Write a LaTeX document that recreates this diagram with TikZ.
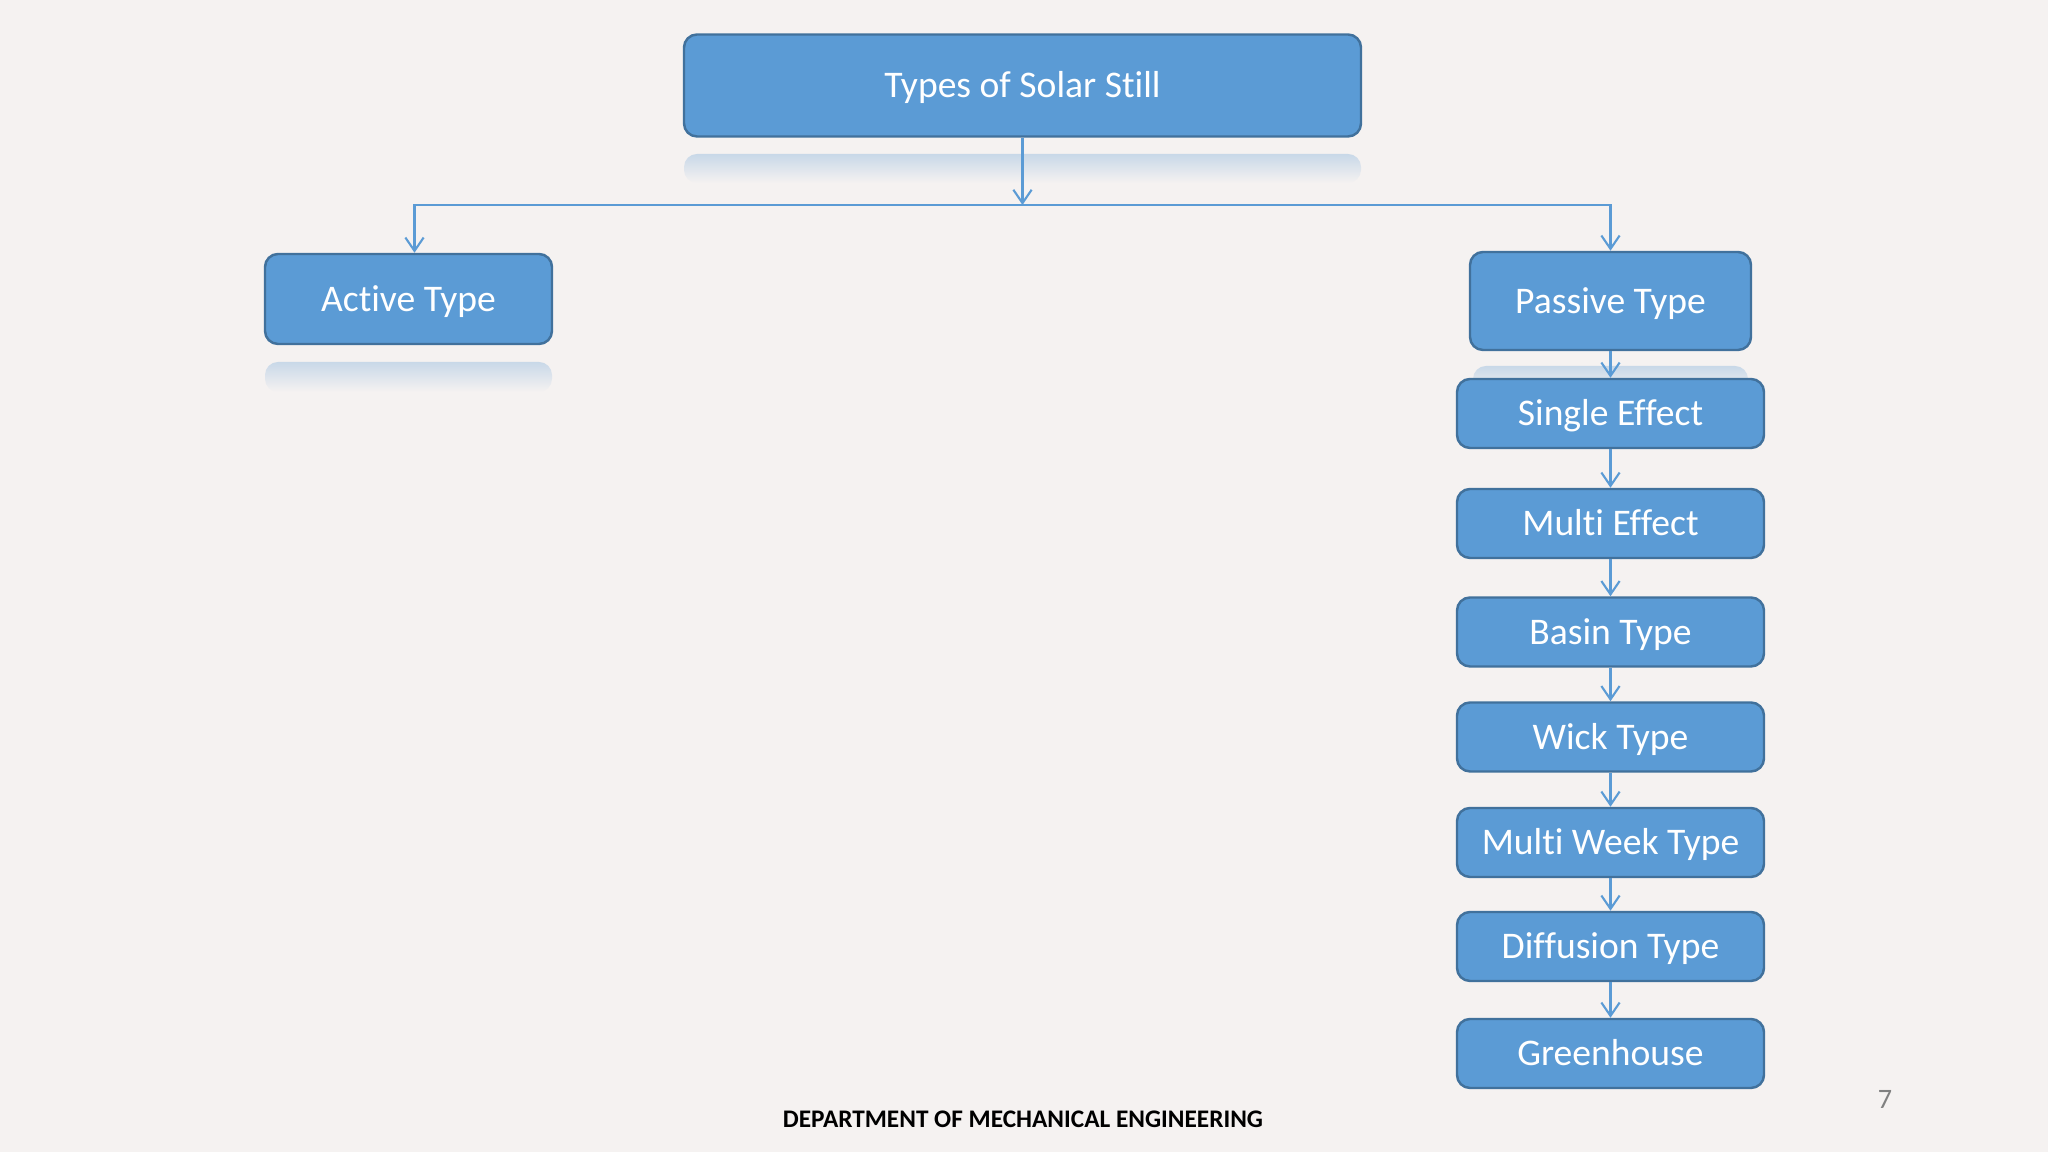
\documentclass[tikz,border=0pt]{standalone}
\usepackage{fontspec}
\setmainfont{Carlito}[Ligatures=NoCommon]
\usetikzlibrary{arrows.meta,positioning}
\definecolor{paper}{RGB}{245,242,241}
\definecolor{boxblue}{RGB}{91,155,213}
\definecolor{boxedge}{RGB}{65,113,156}
\definecolor{refl}{RGB}{200,216,232}
\definecolor{pagegray}{RGB}{128,128,128}

\begin{document}
\begin{tikzpicture}[
        box/.style={rectangle, rounded corners=0.13cm, draw=boxedge, line width=0.7pt, fill=boxblue, text=white, inner sep=0pt, text height=0.75em, text depth=0.04em, font=\fontsize{10.7}{13}\selectfont},
        itembox/.style={box, minimum width=3.07cm, minimum height=0.69cm},
        reflect/.style={rounded corners=0.13cm, top color=refl, bottom color=paper},
        arrow/.style={-{Straight Barb[length=3.8pt,width=5.2pt]}, draw=boxblue, line width=0.6pt}
    ]

    % page
    \fill[paper] (0,0) rectangle (20.48,11.52);
    \useasboundingbox (0,0) rectangle (20.48,11.52);

    % reflections
    \path[reflect] (6.84,9.98) rectangle (13.61,9.69);
    \path[reflect] (2.65,7.90) rectangle (5.52,7.60);
    \path[reflect] (14.73,7.86) rectangle (17.48,7.60);

    \node[box, minimum width=6.77cm, minimum height=1.02cm] (title) at (10.225,10.665) {Types of Solar Still};
    \node[box, minimum width=2.87cm, minimum height=0.90cm] (active) at (4.085,8.53) {Active Type};
    \node[box, minimum width=2.81cm, minimum height=0.98cm] (passive) at (16.105,8.51) {Passive Type};

    \node[itembox] (single) at (16.105,7.385) {Single Effect};
    \node[itembox] (multi) at (16.105,6.285) {Multi Effect};
    \node[itembox] (basin) at (16.105,5.20) {Basin Type};
    \node[itembox] (wick) at (16.105,4.15) {Wick Type};
    \node[itembox] (week) at (16.105,3.095) {Multi Week Type};
    \node[itembox] (diffusion) at (16.105,2.055) {Diffusion Type};
    \node[itembox] (green) at (16.105,0.985) {Greenhouse};

    \coordinate (split) at (10.225,9.47);
    \draw[arrow] (title.south) -- (split);
    \draw[arrow] (split) -| ([xshift=0.06cm]active.north);
    \draw[arrow] (split) -| (passive.north);

    \draw[arrow] (passive) -- (single);
    \draw[arrow] (single) -- (multi);
    \draw[arrow] (multi) -- (basin);
    \draw[arrow] (basin) -- (wick);
    \draw[arrow] (wick) -- (week);
    \draw[arrow] (week) -- (diffusion);
    \draw[arrow] (diffusion) -- (green);

    % footer
    \node[font=\bfseries\fontsize{7.2}{9}\selectfont] (dept) at (10.23,0.33) {DEPARTMENT OF MECHANICAL ENGINEERING};
    \node[text=pagegray, font=\fontsize{8}{10}\selectfont] (page) at (18.85,0.53) {7};

\end{tikzpicture}
\end{document}
